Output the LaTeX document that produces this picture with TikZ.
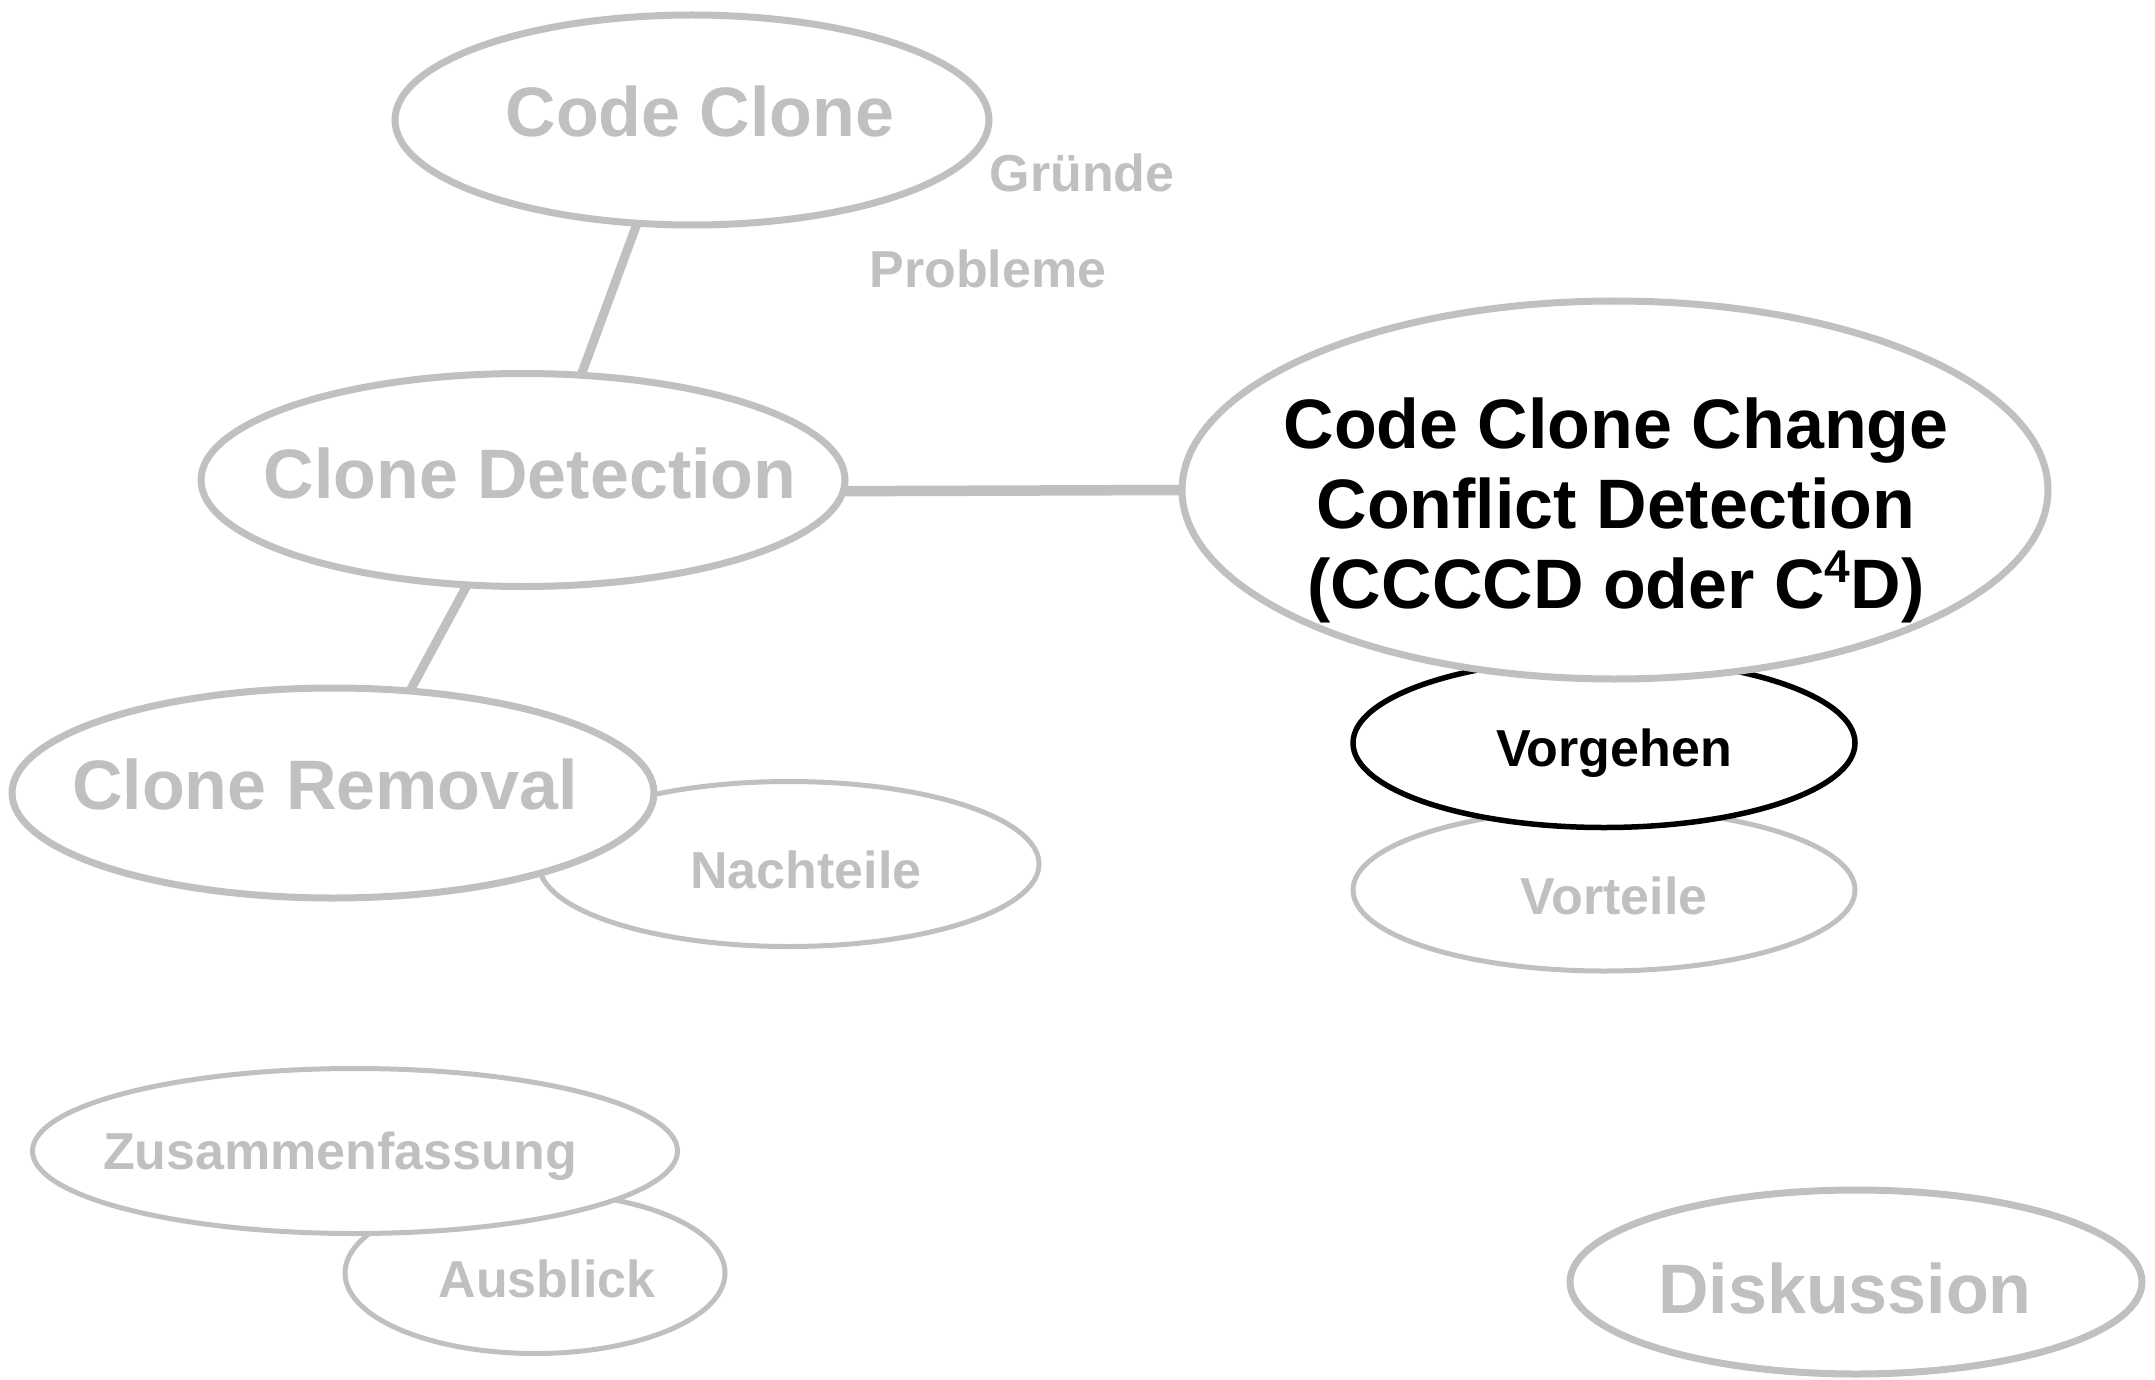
\documentclass[tikz,border=0pt]{standalone}
\usepackage{fontspec}
\setmainfont{Liberation Sans}
\usetikzlibrary{shapes.geometric}
\definecolor{gr}{HTML}{C0C0C0}
\begin{document}
\begin{tikzpicture}[x=1pt,y=-1pt,
  ell/.style={ellipse, draw=gr, fill=white, inner sep=0pt, outer sep=0pt},
  bigell/.style={ell, line width=7pt},
  smallell/.style={ell, line width=5pt},
  blackell/.style={ellipse, draw=black, fill=white, inner sep=0pt, outer sep=0pt, line width=5.5pt},
  bigtxt/.style={anchor=base, inner sep=0pt, text=gr, align=center, font=\fontsize{70}{80}\selectfont\bfseries},
  smalltxt/.style={anchor=base, inner sep=0pt, text=gr, font=\fontsize{52}{60}\selectfont\bfseries},
  conn/.style={draw=gr, line width=9pt},
  mainconn/.style={draw=gr, line width=10.5pt}]
\useasboundingbox (0,0) rectangle (2155,1380);

% ellipses (back to front)
\node[smallell, minimum width=500pt, minimum height=165pt] (nach) at (789,864) {};
\node[bigell, minimum width=642pt, minimum height=210pt] (cr) at (333,793) {};
\node[smallell, minimum width=502pt, minimum height=162pt] (vort) at (1604,890) {};
\node[blackell, minimum width=502pt, minimum height=169pt] (vorg) at (1604,743) {};
\node[bigell, minimum width=866pt, minimum height=378pt] (ccccd) at (1615,490) {};
\node[smallell, minimum width=380pt, minimum height=161pt] (aus) at (535,1273) {};
\node[smallell, minimum width=645pt, minimum height=165pt] (zus) at (355,1151) {};
\node[bigell, minimum width=594pt, minimum height=210pt] (cc) at (692,120) {};
\node[bigell, minimum width=644pt, minimum height=213pt] (cd) at (523,480) {};
\node[bigell, minimum width=572pt, minimum height=184pt] (disk) at (1856,1282) {};

% connectors
\draw[conn] (cc.242) -- (cd.61);
\draw[conn] (cd.242) -- (cr.53);
\draw[mainconn] (cd.-2) -- (ccccd.west);

% texts
\node[bigtxt] (tcc) at (700,137) {Code Clone};
\node[bigtxt] (tcd) at (530,498) {Clone Detection};
\node[bigtxt] (tcr) at (325,809) {Clone Removal};
\node[bigtxt, text=black] (tccccd) at (1616,608) {Code Clone Change\\Conflict Detection\\(CCCCD oder C\raisebox{26pt}{\fontsize{46}{46}\selectfont 4}D)};
\node[bigtxt] (tdisk) at (1845,1313) {Diskussion};
\node[smalltxt] (tgr) at (1082,192) {Gründe};
\node[smalltxt] (tpr) at (988,288) {Probleme};
\node[smalltxt] (tna) at (806,888) {Nachteile};
\node[smalltxt, text=black] (tvg) at (1614,766) {Vorgehen};
\node[smalltxt] (tvt) at (1614,914) {Vorteile};
\node[smalltxt] (tzu) at (340,1169) {Zusammenfassung};
\node[smalltxt] (tau) at (547,1297) {Ausblick};
\end{tikzpicture}
\end{document}
